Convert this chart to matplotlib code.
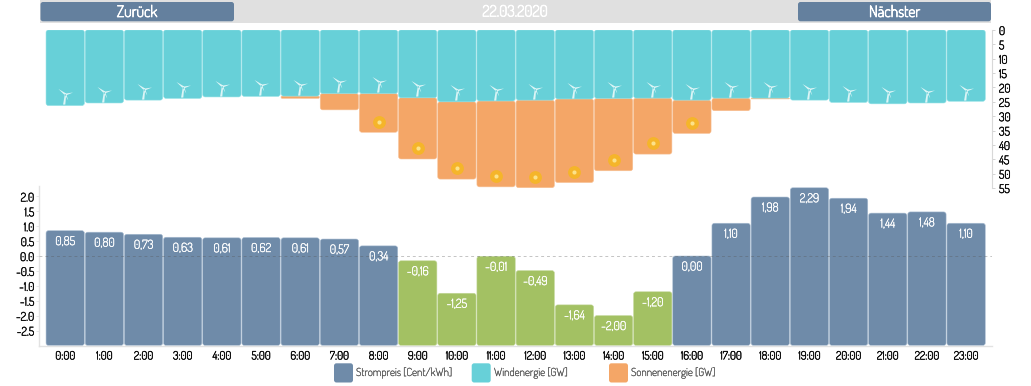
import matplotlib
matplotlib.use("Agg")
import matplotlib.pyplot as plt
import matplotlib.patheffects as pe
from matplotlib.patches import FancyBboxPatch, Rectangle
from matplotlib.path import Path

plt.rcParams['font.family'] = ['Dosis', 'Roboto', 'DejaVu Sans']

# ---- data ----
hours = [f"{h}:00" for h in range(24)]
price = [0.85, 0.80, 0.73, 0.63, 0.61, 0.62, 0.61, 0.57, 0.34, -0.16, -1.25, -0.01,
         -0.49, -1.64, -2.00, -1.20, 0.00, 1.10, 1.98, 2.29, 1.94, 1.44, 1.48, 1.10]
wind = [26.3, 25.4, 24.4, 23.8, 23.3, 23.1, 23.0, 22.1, 22.1, 23.6, 25.0, 24.7,
        24.4, 24.0, 23.8, 23.7, 24.4, 23.7, 23.7, 24.4, 25.2, 25.7, 25.4, 24.8]
sun = [0, 0, 0, 0, 0, 0, 0.8, 5.7, 13.5, 21.3, 26.9, 29.9,
       30.5, 29.1, 25.2, 19.5, 11.6, 4.4, 0.3, 0, 0, 0, 0, 0]
wind_ticks = list(range(0, 60, 5))
price_ticks = [2.0, 1.5, 1.0, 0.5, 0.0, -0.5, -1.0, -1.5, -2.0, -2.5]
legend_labels = ["Strompreis [Cent/kWh]", "Windenergie [GW]", "Sonnenenergie [GW]"]
date_label = "22.03.2020"
nav_labels = ["Zurück", "Nächster"]

# ---- style ----
W, H = 1031, 386
BLUE, GREEN, TEAL, ORANGE = "#6F8BA9", "#A3C163", "#67D0D8", "#F4A667"
NAV_BLUE, NAV_GRAY = "#64809E", "#E0E0E0"
EDGE = {BLUE: "#A9BDD2", GREEN: "#C3D89A", TEAL: "#8FE0E5", ORANGE: "#F7C196"}
PX_PER_HOUR = 39.17
BAR_W = 38.3 / PX_PER_HOUR
TOP_PX_GW = 2.873
BOT_PX_UNIT = 29.8
LEFT, RIGHT = 39, 992


def bolder(color, width):
    return [pe.withStroke(linewidth=width, foreground=color)]


def px_axes(top, bottom, left=LEFT, right=RIGHT):
    return fig.add_axes([left / W, 1 - bottom / H, (right - left) / W, (bottom - top) / H])


def rounded_bar(ax, x, y0, y1, color, px_per_y, radius_px=2.5, z=2):
    r = radius_px / PX_PER_HOUR
    aspect = PX_PER_HOUR / px_per_y
    if abs(y1 - y0) < 2 * r * aspect:
        r = abs(y1 - y0) / 2 / aspect
    ax.add_patch(FancyBboxPatch((x - BAR_W / 2, min(y0, y1)), BAR_W, abs(y1 - y0),
                                boxstyle=f"round,pad=0,rounding_size={r}",
                                mutation_aspect=aspect, facecolor=color,
                                edgecolor=EDGE[color], linewidth=0.4, zorder=z))


fig = plt.figure(figsize=(W / 100, H / 100), dpi=100, facecolor="white")
xs = list(range(24))
xlim = ((LEFT - 65.2) / PX_PER_HOUR, (RIGHT - 65.2) / PX_PER_HOUR)

# ---- top chart: wind & sun ----
ax = px_axes(30, 188)
ax.set_xlim(*xlim)
ax.set_ylim(55, 0)
for x, w, s in zip(xs, wind, sun):
    if s > 0:
        rounded_bar(ax, x, w, w + s, ORANGE, TOP_PX_GW, z=2)
    rounded_bar(ax, x, 0, w, TEAL, TOP_PX_GW, z=3)

# turbine glyph, units = pixels relative to hub, y up
turbine = Path([(-1.0, -0.4), (-7, 5.5), (0.6, 1.0), (-1.0, -0.4),
                (0, 0.9), (7.5, 2), (0.5, -0.9), (0, 0.9),
                (0.8, 0.2), (2.8, -6), (-0.6, -0.2), (0.8, 0.2),
                (-0.7, 0), (-2.4, -10), (-0.2, -10), (0.7, 0), (-0.7, 0)],
               [1, 2, 2, 79, 1, 2, 2, 79, 1, 2, 2, 79, 1, 2, 2, 2, 79])
ax.scatter(xs, [w - 11.4 / TOP_PX_GW for w in wind], marker=turbine, s=210,
           color="#DDF5F6", linewidths=0, zorder=4)

sun_x = [x for x, s in zip(xs, sun) if s > 8]
sun_y = [w + s - 10.7 / TOP_PX_GW for w, s in zip(wind, sun) if s > 8]
ax.scatter(sun_x, sun_y, s=85, color="#F5B52A", linewidths=0, zorder=4)
ax.scatter(sun_x, sun_y, s=9, color="#FCE28A", linewidths=0, zorder=5)

ax.patch.set_visible(False)
for side in ("top", "left", "bottom"):
    ax.spines[side].set_visible(False)
ax.spines["right"].set_color("#D8D8D8")
ax.spines["right"].set_linewidth(0.8)
ax.set_xticks([])
ax.yaxis.tick_right()
ax.set_yticks(wind_ticks)
ax.tick_params(axis="y", length=2.5, width=0.6, color="#CCCCCC", pad=2.5, labelsize=8.5,
               labelcolor="#111111", direction="out")

# ---- bottom chart: price ----
bx = px_axes(186, 346)
bx.set_xlim(*xlim)
bx.set_ylim(-3.02, 2.35)
BASE = -3.0
for x, p in zip(xs, price):
    rounded_bar(bx, x, BASE, p, GREEN if p < 0 else BLUE, BOT_PX_UNIT)
    bx.annotate(f"{p:.2f}".replace(".", ","), (x, p), xytext=(0, -3.2),
                textcoords="offset points", ha="center", va="top", color="white",
                fontsize=8.8, zorder=6, path_effects=bolder("white", 0.3))
bx.axhline(0, color="#555555", alpha=0.35, linewidth=0.7, linestyle=(0, (3, 3)), zorder=5)
for side in ("top", "right"):
    bx.spines[side].set_visible(False)
for side in ("left", "bottom"):
    bx.spines[side].set_color("#E2E2E2")
    bx.spines[side].set_linewidth(1.0)
bx.set_xticks(xs, hours)
bx.set_yticks(price_ticks, [f"{t:.1f}" for t in price_ticks])
bx.tick_params(axis="x", length=0, pad=2.5, labelsize=8.2, labelcolor="#111111")
bx.tick_params(axis="y", length=2, width=0.6, color="#E2E2E2", pad=1.5, labelsize=8.5,
               labelcolor="#111111")
bx.patch.set_visible(False)
for lab in ax.get_yticklabels() + bx.get_yticklabels() + bx.get_xticklabels():
    lab.set_path_effects(bolder("#111111", 0.4))

# ---- overlay in pixel coordinates: navigation and legend ----
ov = fig.add_axes([0, 0, 1, 1], zorder=-1)
ov.set_xlim(0, W)
ov.set_ylim(H, 0)
ov.axis("off")
ov2 = fig.add_axes([0, 0, 1, 1], zorder=10)
ov2.set_xlim(0, W)
ov2.set_ylim(H, 0)
ov2.axis("off")


def round_rect(a, x0, y0, x1, y1, color, r=2.5):
    a.add_patch(FancyBboxPatch((x0, y0), x1 - x0, y1 - y0,
                               boxstyle=f"round,pad=0,rounding_size={r}",
                               facecolor=color, edgecolor="none"))


ov.add_patch(Rectangle((40, 0), 951, 22.7, facecolor=NAV_GRAY, edgecolor="none"))
round_rect(ov2, 40.5, 2, 234, 21.3, NAV_BLUE)
round_rect(ov2, 798, 2, 991, 21.3, NAV_BLUE)
for tx, label in zip((137, 894.5), nav_labels):
    ov2.text(tx, 12.5, label, color="white", fontsize=11.3, ha="center", va="center",
             path_effects=bolder("white", 0.6))
ov2.text(515, 12, date_label, color="white", fontsize=11.2, ha="center", va="center",
         path_effects=bolder("white", 0.6))

for box_x, text_x, color, label in zip((334, 471.7, 609), (356, 494, 631),
                                       (BLUE, TEAL, ORANGE), legend_labels):
    round_rect(ov2, box_x, 363.3, box_x + 19, 382.5, color)
    ov2.text(text_x, 373, label, color="#555555", fontsize=8, ha="left", va="center",
             path_effects=bolder("#555555", 0.2))

fig.savefig("out.png", dpi=100)
